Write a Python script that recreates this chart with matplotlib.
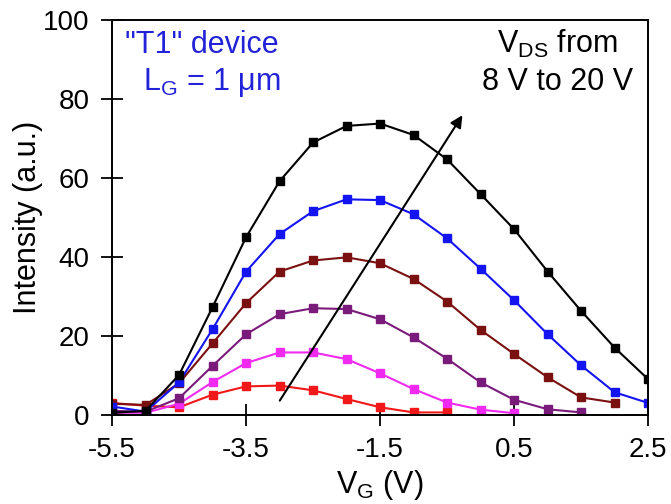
import numpy as np
from matplotlib import pyplot as plt

plt.rcParams['font.family'] = ['Liberation Sans', 'DejaVu Sans']
plt.rcParams['mathtext.fontset'] = 'custom'
plt.rcParams['mathtext.rm'] = 'Liberation Sans'
plt.rcParams['mathtext.it'] = 'Liberation Sans'
plt.rcParams['axes.unicode_minus'] = False

# gate voltage (V), 0.5 V steps
vg = np.arange(-5.5, 2.51, 0.5)

# intensity (a.u.) for increasing V_DS
i_red = [3.0, 2.3, 1.9, 5.1, 7.2, 7.4, 6.2, 4.0, 1.9, 0.6, 0.6]
i_magenta = [0.5, 0.5, 2.8, 8.3, 13.1, 15.8, 15.8, 14.1, 10.5, 6.5, 3.1, 1.3, 0.4]
i_purple = [1.0, 0.8, 4.2, 12.4, 20.4, 25.5, 27.0, 26.8, 24.2, 19.6, 14.2, 8.2, 3.8, 1.4, 0.6]
i_brown = [2.8, 2.5, 8.0, 18.1, 28.3, 36.3, 39.1, 39.9, 38.4, 34.4, 28.7, 21.5, 15.4, 9.5, 4.4, 3.1]
i_blue = [2.1, 0.8, 8.2, 21.7, 36.3, 45.8, 51.6, 54.6, 54.4, 50.8, 44.7, 37.0, 29.0, 20.4, 12.5, 5.7, 3.0]
i_black = [0.5, 1.0, 10.1, 27.3, 45.0, 59.2, 69.0, 73.2, 73.8, 70.9, 64.7, 55.9, 47.0, 36.3, 26.3, 17.0, 9.0]

series = [
    (i_red, '#f01818'),
    (i_magenta, '#f02af0'),
    (i_purple, '#7a1a7a'),
    (i_brown, '#7a1010'),
    (i_blue, '#1414f0'),
    (i_black, '#000000'),
]

fig = plt.figure(figsize=(6.71, 5.04), dpi=100)
ax = fig.add_axes([0.167, 0.177, 0.799, 0.783])

for vals, col in series:
    ax.plot(vg[:len(vals)], vals, color=col, linewidth=1.5, marker='s',
            markersize=6, markerfacecolor=col, markeredgecolor=col)

# arrow showing increasing V_DS
ax.annotate('', xy=(-0.25, 76.5), xytext=(-3.02, 3.0),
            arrowprops=dict(arrowstyle='-|>', color='black', lw=1.5,
                            mutation_scale=18))

blue_txt = '#2222d8'
ax.text(-5.31, 91.6, '"T1" device', color=blue_txt, fontsize=22, ha='left', va='baseline')
ax.text(-5.04, 82.3, r'L$_\mathregular{G}$ = 1 $\mathregular{\mu}$m', color=blue_txt,
        fontsize=22, ha='left', va='baseline')
ax.text(2.04, 91.6, r'V$_\mathregular{DS}$ from', color='black', fontsize=22,
        ha='right', va='baseline')
ax.text(2.28, 82.3, '8 V to 20 V', color='black', fontsize=22, ha='right', va='baseline')

ax.set_xlim(-5.5, 2.5)
ax.set_ylim(0, 100)
ax.set_xticks([-5.5, -3.5, -1.5, 0.5, 2.5])
ax.set_yticks(np.arange(0, 101, 20))
ax.tick_params(direction='inout', length=16, width=1.3, labelsize=20, pad=8)
for sp in ax.spines.values():
    sp.set_linewidth(1.4)

ax.set_xlabel(r'V$_\mathregular{G}$ (V)', fontsize=22)
ax.set_ylabel('Intensity (a.u.)', fontsize=22)
ax.xaxis.set_label_coords(0.5, -0.135)
ax.yaxis.set_label_coords(-0.128, 0.5)

fig.savefig('out.png', dpi=100)
